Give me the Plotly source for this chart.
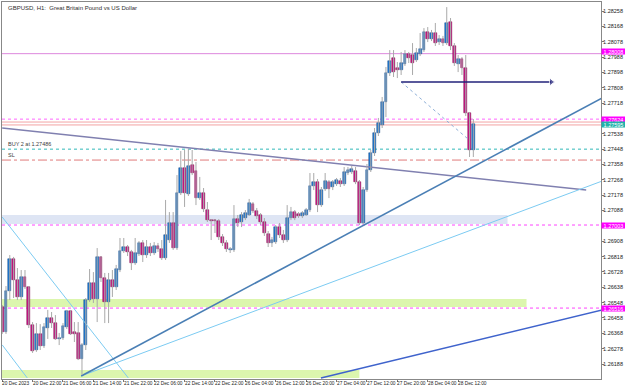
import plotly.graph_objects as go

# ---------------- data (GBPUSD H1) ----------------
opens = [1.26522,1.26376,1.26616,1.26804,1.26681,1.26581,1.26698,1.26640,1.26417,1.26270,
         1.26364,1.26294,1.26399,1.26458,1.26428,1.26335,1.26341,1.26405,1.26499,1.26376,
         1.26370,1.26217,1.26299,1.26563,1.26663,1.26569,1.26816,1.26692,1.26552,1.26681,
         1.26640,1.26739,1.26851,1.26874,1.26845,1.26780,1.26833,1.26898,1.26827,1.26874,
         1.26839,1.26880,1.26862,1.26810,1.26915,1.27015,1.26868,1.27191,1.27337,1.27185,
         1.27355,1.27320,1.27161,1.27191,1.27091,1.27032,1.27032,1.27027,1.26933,1.26898,
         1.26857,1.26857,1.27038,1.27021,1.27044,1.27062,1.27127,1.27085,1.27062,1.27021,
         1.26950,1.26898,1.26903,1.26991,1.26945,1.26915,1.27044,1.27079,1.27068,1.27056,
         1.27062,1.27091,1.27232,1.27255,1.27120,1.27214,1.27255,1.27226,1.27243,1.27261,
         1.27243,1.27308,1.27314,1.27320,1.27255,1.27015,1.27208,1.27326,1.27425,1.27543,
         1.27590,1.27724,1.27894,1.27982,1.27924,1.27912,1.27948,1.28006,1.28000,1.27971,
         1.28006,1.28029,1.28135,1.28094,1.28129,1.28076,1.28094,1.28070,1.28194,1.28053,
         1.27948,1.27977,1.27924,1.27660,1.27443]
highs = [1.26534,1.26645,1.26827,1.26816,1.26751,1.26739,1.26739,1.26645,1.26434,1.26428,
         1.26422,1.26428,1.26505,1.26493,1.26475,1.26370,1.26428,1.26505,1.26505,1.26434,
         1.26434,1.26311,1.26575,1.26745,1.26727,1.26868,1.26821,1.26722,1.26722,1.26739,
         1.26769,1.26927,1.26927,1.26886,1.26857,1.26927,1.26909,1.26915,1.26915,1.26898,
         1.26903,1.26898,1.26915,1.27150,1.27079,1.27079,1.27296,1.27437,1.27443,1.27449,
         1.27443,1.27373,1.27285,1.27220,1.27138,1.27038,1.27038,1.27038,1.26950,1.26915,
         1.26874,1.27120,1.27062,1.27079,1.27091,1.27156,1.27138,1.27103,1.27073,1.27044,
         1.26968,1.26933,1.27003,1.27015,1.26974,1.27120,1.27109,1.27091,1.27079,1.27085,
         1.27103,1.27308,1.27308,1.27273,1.27226,1.27308,1.27267,1.27267,1.27279,1.27279,
         1.27343,1.27343,1.27349,1.27343,1.27267,1.27226,1.27361,1.27443,1.27572,1.27631,
         1.27754,1.27930,1.28029,1.28029,1.27959,1.28018,1.28029,1.28018,1.28070,1.28041,
         1.28129,1.28158,1.28164,1.28147,1.28188,1.28117,1.28112,1.28281,1.28217,1.28070,
         1.28000,1.27988,1.28000,1.27666,1.27625]
lows = [1.26364,1.26364,1.26563,1.26575,1.26563,1.26563,1.26628,1.26399,1.26253,1.26259,
        1.26270,1.26282,1.26335,1.26399,1.26329,1.26299,1.26329,1.26393,1.26358,1.26317,
        1.26211,1.26124,1.26270,1.26552,1.26546,1.26434,1.26669,1.26428,1.26428,1.26581,
        1.26622,1.26727,1.26839,1.26821,1.26739,1.26769,1.26821,1.26786,1.26810,1.26821,
        1.26827,1.26845,1.26798,1.26798,1.26898,1.26857,1.26857,1.27179,1.27109,1.27173,
        1.27296,1.27120,1.27150,1.27079,1.27021,1.26915,1.26956,1.26915,1.26880,1.26845,
        1.26839,1.26845,1.26991,1.26991,1.27032,1.27056,1.27073,1.27038,1.27003,1.26939,
        1.26874,1.26874,1.26892,1.26927,1.26898,1.26903,1.27032,1.27032,1.27044,1.27044,
        1.27056,1.27079,1.27208,1.27079,1.27109,1.27203,1.27161,1.27208,1.27232,1.27226,
        1.27232,1.27296,1.27302,1.27243,1.27003,1.27009,1.27197,1.27314,1.27408,1.27525,
        1.27572,1.27636,1.27877,1.27871,1.27865,1.27883,1.27936,1.27953,1.27883,1.27959,
        1.27994,1.28018,1.28076,1.28082,1.28053,1.28059,1.28053,1.28059,1.28029,1.27936,
        1.27900,1.27883,1.27642,1.27402,1.27402]
closes = [1.26376,1.26616,1.26804,1.26681,1.26581,1.26698,1.26640,1.26417,1.26264,1.26364,
          1.26294,1.26405,1.26458,1.26428,1.26335,1.26341,1.26411,1.26499,1.26364,1.26364,
          1.26217,1.26299,1.26563,1.26663,1.26569,1.26816,1.26692,1.26552,1.26681,1.26640,
          1.26745,1.26851,1.26874,1.26845,1.26780,1.26839,1.26898,1.26827,1.26874,1.26839,
          1.26880,1.26862,1.26810,1.26945,1.27015,1.26868,1.27191,1.27337,1.27191,1.27349,
          1.27308,1.27161,1.27191,1.27097,1.27032,1.27027,1.27027,1.26933,1.26898,1.26862,
          1.26862,1.27038,1.27015,1.27062,1.27073,1.27132,1.27085,1.27056,1.27021,1.26956,
          1.26898,1.26915,1.26991,1.26945,1.26915,1.27044,1.27079,1.27044,1.27056,1.27073,
          1.27091,1.27232,1.27255,1.27120,1.27208,1.27261,1.27214,1.27255,1.27267,1.27243,
          1.27314,1.27326,1.27332,1.27255,1.27015,1.27208,1.27326,1.27425,1.27543,1.27601,
          1.27724,1.27894,1.27965,1.27900,1.27912,1.27953,1.28006,1.27982,1.27953,1.28012,
          1.28035,1.28135,1.28094,1.28129,1.28070,1.28094,1.28070,1.28188,1.28053,1.27953,
          1.27977,1.27924,1.27660,1.27443,1.27595]

time_ticks = list(range(0, 121, 8))
time_labels = ["20 Dec 2023", "20 Dec 22:00", "21 Dec 06:00", "21 Dec 14:00", "21 Dec 22:00",
               "22 Dec 06:00", "22 Dec 14:00", "22 Dec 22:00", "26 Dec 04:00", "26 Dec 12:00",
               "26 Dec 20:00", "27 Dec 04:00", "27 Dec 12:00", "27 Dec 20:00", "28 Dec 04:00",
               "28 Dec 12:00"]
price_ticks = [1.26188, 1.26278, 1.26368, 1.26458, 1.26548, 1.26638, 1.26728, 1.26818, 1.26908,
               1.27088, 1.27178, 1.27268, 1.27358, 1.27448, 1.27538, 1.27718, 1.27808,
               1.27898, 1.27988, 1.28078, 1.28168, 1.28258]

# horizontal levels
level_violet = 1.28008
level_pink = 1.27624
level_salmon = [1.27607, 1.27590]
level_buy = 1.27448
level_sl = 1.27384
level_mag1 = 1.27003
level_mag2 = 1.26516
band_blue = [1.27009, 1.27062, 0, 133]
band_green = [1.26522, 1.26569, 0, 138]
band_green_low = [1.26106, 1.26153, 0, 94]
labels_right = [(1.28008, "1.28008", "#FF00FF", 2), (1.27624, "1.27624", "#FF00FF", 0),
                (1.27595, "1.27595", "#20B2AA", 0), (1.27003, "1.27003", "#FF00FF", 0),
                (1.26516, "1.26516", "#FF00FF", 0)]

# trend lines (bar index, price)
tl_purple = ([0.0, 153.7], [1.27572, 1.27208])
tl_steel = ([20.8, 157.9], [1.26118, 1.27748])
tl_sky = ([20.8, 157.9], [1.26118, 1.27261])
tl_cyan1 = ([0.0, 33.2], [1.27050, 1.26106])
tl_cyan2 = ([0.0, 6.6], [1.26300, 1.26106])
tl_royal = ([83.9, 157.9], [1.26106, 1.26505])
arrow_navy = ([105, 144.5], [1.27842, 1.27842])
tl_dotted = ([105, 122.9], [1.27842, 1.27502])

n = len(opens)
xs = list(range(n))
bull = [c >= o for o, c in zip(opens, closes)]
BULL, BEAR = "#1E78D2", "#C71585"

fig = go.Figure()

# bands
for b, col in [(band_blue, "rgba(200,212,236,0.6)"), (band_green, "rgba(214,245,160,0.85)"),
               (band_green_low, "rgba(214,245,160,0.85)")]:
    fig.add_shape(type="rect", xref="x", yref="y", x0=-2, x1=b[3], y0=b[0], y1=b[1],
                  fillcolor=col, line_width=0, layer="below")

def hline(y, color, dash="solid", width=1):
    fig.add_shape(type="line", xref="paper", yref="y", x0=0, x1=1, y0=y, y1=y,
                  line=dict(color=color, width=width, dash=dash), layer="below")

hline(level_violet, "#DD88DD")
hline(level_pink, "#FF66FF", "dot")
for s in level_salmon:
    hline(s, "#F3A3A3")
hline(level_buy, "#30B8B8", "dot")
hline(level_sl, "#E07A7A", "dashdot")
hline(level_mag1, "#FF44FF", "dot")
hline(level_mag2, "#FF44FF", "dot")

def tline(tl, color, width=1, dash="solid"):
    fig.add_trace(go.Scatter(x=tl[0], y=tl[1], mode="lines", hoverinfo="skip",
                             line=dict(color=color, width=width, dash=dash), showlegend=False))

tline(tl_purple, "#8080B0", 1.4)
tline(tl_sky, "#7CCBF2", 1)
tline(tl_cyan1, "#7CCBF2", 1)
tline(tl_cyan2, "#7CCBF2", 1)
tline(tl_steel, "#4A7FB5", 1.6)
tline(tl_royal, "#3F63CC", 1.4)
tline(tl_dotted, "#8FB0D8", 1, "dot")

# wicks
wx, wy = [], []
for i in xs:
    wx += [i, i, None]
    wy += [lows[i], highs[i], None]
fig.add_trace(go.Scatter(x=wx, y=wy, mode="lines", line=dict(color="#A9A9A9", width=1),
                         hoverinfo="skip", showlegend=False))
# bodies
fig.add_trace(go.Bar(x=xs, y=[max(abs(c - o), 0.00003) for o, c in zip(opens, closes)],
                     base=[min(o, c) for o, c in zip(opens, closes)], width=0.72,
                     marker=dict(color=[BULL if b else BEAR for b in bull],
                                 line=dict(color=["#1A4A80" if b else "#7A0C4A" for b in bull], width=0.5)),
                     showlegend=False))

# navy arrow
fig.add_trace(go.Scatter(x=arrow_navy[0], y=arrow_navy[1], mode="lines+markers",
                         line=dict(color="#22227A", width=1.6),
                         marker=dict(symbol=["line-ns", "triangle-right"], size=[0, 7], color="#22227A"),
                         showlegend=False, hoverinfo="skip"))

fnt = "Liberation Sans"
for y, txt, col, ys in labels_right:
    fig.add_annotation(xref="paper", x=1, xanchor="left", xshift=0, y=y, yref="y", yshift=ys,
                       text=txt, showarrow=False, bgcolor=col,
                       font=dict(family=fnt, size=5.5, color="white"),
                       borderpad=0, width=23, height=5)

for t, lab in zip(time_ticks, time_labels):
    fig.add_annotation(x=t, xref="x", xanchor="left", xshift=-1, yref="paper", y=0, yanchor="top",
                       yshift=-1, text=lab, showarrow=False, borderpad=0,
                       font=dict(family=fnt, size=4.8, color="#222"))

fig.add_annotation(xref="paper", x=0.006, xanchor="left", y=level_buy, yshift=5, text="BUY 2 at 1.27486",
                   showarrow=False, font=dict(family=fnt, size=5.5, color="#404040"))
fig.add_annotation(xref="paper", x=0.006, xanchor="left", y=level_sl, yshift=5, text="SL",
                   showarrow=False, font=dict(family=fnt, size=5.5, color="#404040"))
fig.add_annotation(xref="paper", x=0.006, xanchor="left", yref="paper", y=0.998, yanchor="top",
                   text="GBPUSD, H1:  Great Britain Pound vs US Dollar", showarrow=False,
                   font=dict(family=fnt, size=6, color="#303030"))

fig.update_layout(
    width=625, height=390, margin=dict(l=2, r=24, t=2, b=11),
    paper_bgcolor="white", plot_bgcolor="white", bargap=0, showlegend=False,
    xaxis=dict(range=[-0.05, 157.6], tickvals=time_ticks, showticklabels=False,
               ticks="outside", ticklen=2, tickcolor="#777",
               showgrid=False, zeroline=False, showline=True, linecolor="#888", mirror=True,
               automargin=False),
    yaxis=dict(range=[1.26100, 1.28311], side="right", tickvals=price_ticks, tickformat=".5f",
               ticks="outside", ticklen=2, tickcolor="#777", showgrid=False, zeroline=False,
               showline=True, linecolor="#888", mirror=True, ticklabelstandoff=-2,
               tickfont=dict(family=fnt, size=5.5, color="#222"), automargin=False),
)

fig.write_html("out.html")
